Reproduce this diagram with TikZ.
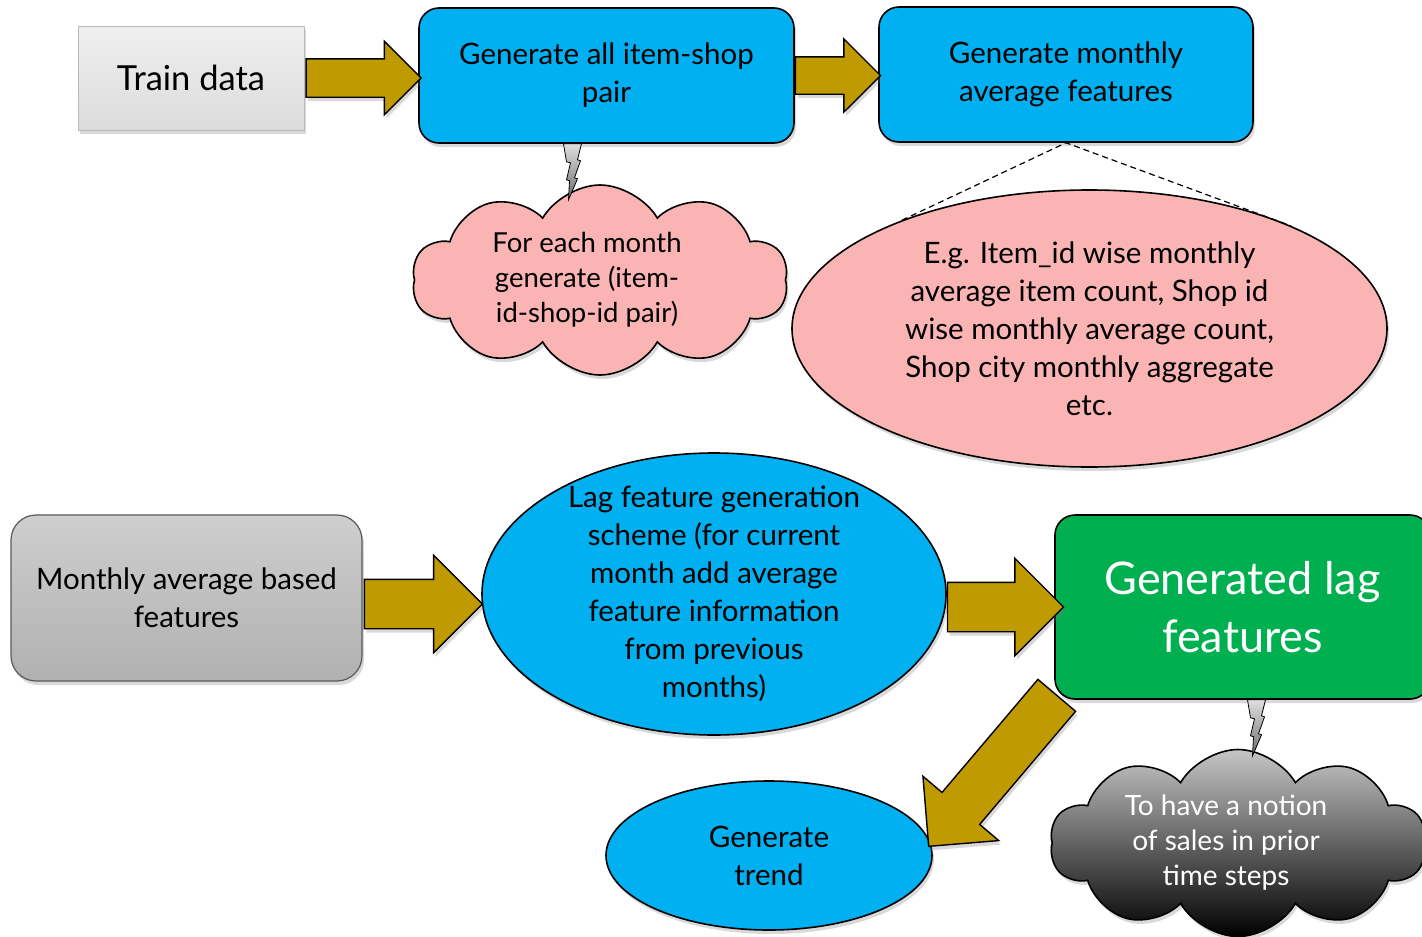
\documentclass[tikz,border=0pt]{standalone}
\usepackage{fontspec}
\setmainfont{Lato}
\usetikzlibrary{shapes.geometric,shapes.symbols,shapes.arrows,shadows,calc}
\definecolor{cblue}{RGB}{0,176,240}
\definecolor{cgreen}{RGB}{0,176,80}
\definecolor{cpink}{RGB}{250,180,180}
\definecolor{cgold}{RGB}{191,154,0}
\begin{document}
\begin{tikzpicture}[x=1pt,y=-1pt,
  shad/.style={drop shadow={opacity=0.3,shadow xshift=2pt,shadow yshift=-4pt}},
  body/.style={font=\fontsize{29.5}{38}\selectfont,align=center,inner sep=0pt},
  bluebox/.style={body,rectangle,rounded corners=20pt,draw=black,line width=1.6pt,fill=cblue,shad},
  blueell/.style={body,ellipse,draw=black,line width=1.6pt,fill=cblue,shad},
  pinkell/.style={body,ellipse,draw=black,line width=1.6pt,fill=cpink,shad},
  cloudshape/.style={body,cloud,cloud puffs=10,cloud puff arc=120,cloud ignores aspect,draw=black,line width=1.6pt,shad},
  cloudtext/.style={align=center,inner sep=0pt,font=\fontsize{#1}{35}\selectfont},
  garrow/.style={shape=single arrow,draw=black,line width=1.4pt,fill=cgold,inner xsep=0pt,
    single arrow tip angle=90,single arrow head indent=0pt,anchor=tail,shad}
]
\tikzset{bolt/.style={draw=black,line width=0.8pt,top color=gray!25,bottom color=gray!85!black}}
\useasboundingbox (0,0) rectangle (1422,937);

% top row
\node[body,rectangle,draw=gray!55,line width=0.8pt,top color=gray!12,bottom color=gray!28,
  minimum width=226pt,minimum height=104pt,shad,font=\fontsize{34.5}{38}\selectfont]
  (train) at (191,78) {Train data};
\node[bluebox,minimum width=375pt,minimum height=135pt] (gen) at (606.5,75.5)
  {Generate all item-shop\\pair};
\node[bluebox,minimum width=374pt,minimum height=135pt] (avg) at (1066,74.5)
  {Generate monthly\\average features};

\node[cloudshape,fill=cpink,minimum width=376pt,minimum height=190pt,
  label={[cloudtext=27.5,xshift=-13pt]center:{For each month\\generate (item-\\id-shop-id pair)}}]
  (c1) at (600,280) {};

\node[pinkell,minimum width=595pt,minimum height=277pt] (e1) at (1089.5,328.5)
  {E.g. Item\_id wise monthly\\average item count, Shop id\\wise monthly average count,\\Shop city monthly aggregate\\etc.};

\draw[line width=1.2pt,dash pattern=on 6pt off 4pt] (e1.150.7) -- (avg.south) -- (e1.27.5);

% lightning 1
\begin{scope}[shift={($(gen.south)+(-43,0)$)}]
  \draw[bolt] (0,0) -- (18,0) -- (14,16) -- (17,17) -- (11,34) -- (14,35) -- (5,56)
    -- (6,37) -- (3,36) -- (7,19) -- (3,18) -- cycle;
\end{scope}

% bottom row
\node[body,rectangle,rounded corners=25pt,draw=gray!70!black,line width=1.2pt,
  top color=gray!38,bottom color=gray!62,minimum width=351pt,minimum height=166pt,shad]
  (month) at (186.5,598) {Monthly average based\\features};
\node[blueell,inner ysep=-10pt,minimum width=464pt,minimum height=282pt] (lag) at (714,594)
  {Lag feature generation\\scheme (for current\\month add average\\feature information\\from previous\\months)};
\node[bluebox,fill=cgreen,minimum width=375pt,minimum height=184pt,text=white,
  font=\fontsize{45}{58}\selectfont] (lagf) at (1242.5,607) {Generated lag\\features};
\node[blueell,minimum width=326pt,minimum height=149pt] (trend) at (769,855.5)
  {Generate\\trend};
\node[cloudshape,top color=gray!45,bottom color=black,minimum width=376pt,minimum height=187pt,
  label={[cloudtext=28,text=white,xshift=-12pt]center:{To have a notion\\of sales in prior\\time steps}}]
  (c2) at (1238,843) {};

% lightning 2
\begin{scope}[shift={($(lagf.south)+(5,0)$)}]
  \draw[bolt] (0,0) -- (18,0) -- (14,16) -- (17,17) -- (11,34) -- (14,35) -- (5,56)
    -- (6,37) -- (3,36) -- (7,19) -- (3,18) -- cycle;
\end{scope}

% block arrows
\node[garrow,inner ysep=18.5pt,minimum height=115pt,minimum width=72pt,single arrow head extend=17.5pt]
  (a1) at ($(train.east)+(1,0)$) {};
\node[garrow,inner ysep=18pt,minimum height=85pt,minimum width=72pt,single arrow head extend=18pt]
  (a2) at (gen.east) {};
\node[garrow,inner ysep=24pt,minimum height=118pt,minimum width=96pt,single arrow head extend=24pt]
  (a3) at ($(month.east)+(1,6)$) {};
\node[garrow,inner ysep=24pt,minimum height=116pt,minimum width=96pt,single arrow head extend=24pt]
  (a4) at ($(lag.east)+(0,13)$) {};
\node[garrow,inner ysep=24pt,minimum height=198pt,minimum width=98pt,single arrow head extend=25pt,rotate=229.7]
  (a5) at ($(lagf.south west)+(3,-5)$) {};
\end{tikzpicture}
\end{document}
